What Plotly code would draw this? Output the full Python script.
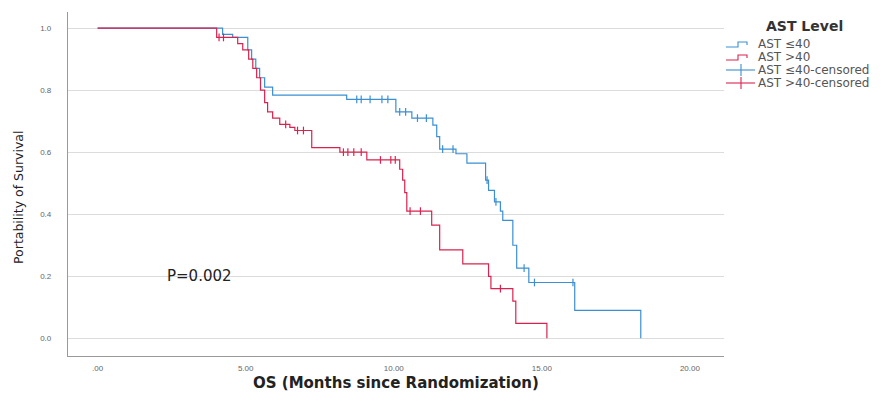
import plotly.graph_objects as go

# Kaplan-Meier step estimates (time in months, survival probability after each step)
low_times = [0, 4.22, 4.56, 5.07, 5.2, 5.34, 5.47, 5.64, 5.91, 8.41, 10.07, 10.61, 11.32,
             11.45, 11.55, 12.1, 12.47, 13.1, 13.2, 13.4, 13.6, 13.68, 14.02, 14.15, 14.56,
             16.11, 18.34]
low_surv = [1.0, 0.98, 0.97, 0.93, 0.90, 0.87, 0.84, 0.81, 0.784, 0.77, 0.73, 0.71, 0.687,
            0.65, 0.61, 0.595, 0.565, 0.51, 0.477, 0.44, 0.41, 0.38, 0.30, 0.226, 0.18,
            0.09, 0.0]
low_censored = [8.75, 8.9, 9.2, 9.6, 9.8, 10.2, 10.4, 10.8, 11.1, 11.65, 12.0, 13.15, 13.45,
                14.4, 14.75, 16.05]

high_times = [0, 4.02, 4.73, 4.9, 5.1, 5.24, 5.37, 5.5, 5.64, 5.74, 5.91, 6.15, 6.49, 6.66,
              7.23, 8.18, 9.09, 10.2, 10.3, 10.37, 10.44, 11.28, 11.55, 12.33, 13.2, 13.28,
              14.02, 14.12, 15.17]
high_surv = [1.0, 0.97, 0.95, 0.93, 0.90, 0.87, 0.84, 0.80, 0.76, 0.73, 0.71, 0.69, 0.68,
             0.67, 0.615, 0.60, 0.575, 0.545, 0.51, 0.47, 0.41, 0.365, 0.285, 0.24, 0.20,
             0.16, 0.12, 0.048, 0.0]
high_censored = [4.1, 4.25, 6.35, 6.75, 6.95, 8.3, 8.45, 8.65, 8.9, 9.55, 9.9, 10.05, 10.55,
                 10.9, 13.6]

x_tickvals = [0, 5, 10, 15, 20]
x_ticktext = [".00", "5.00", "10.00", "15.00", "20.00"]
y_tickvals = [0.0, 0.2, 0.4, 0.6, 0.8, 1.0]
y_ticktext = ["0.0", "0.2", "0.4", "0.6", "0.8", "1.0"]

group_names = ["AST \u226440", "AST >40"]
BLUE = "#3b8fd2"
RED = "#d9234f"
FONT = "DejaVu Sans"


def surv_at(times, surv, t):
    """Survival value of a right-continuous step function at time t."""
    val = surv[0]
    for ti, si in zip(times, surv):
        if ti <= t:
            val = si
    return val


fig = go.Figure()

for name, times, surv, cens, col in [
    (group_names[0], low_times, low_surv, low_censored, BLUE),
    (group_names[1], high_times, high_surv, high_censored, RED),
]:
    fig.add_trace(go.Scatter(x=times, y=surv, mode="lines", line_shape="hv",
                             line=dict(color=col, width=1.2), name=name, showlegend=False))
    fig.add_trace(go.Scatter(x=cens, y=[surv_at(times, surv, t) for t in cens],
                             mode="markers", name=name + "-censored", showlegend=False,
                             marker=dict(symbol="line-ns-open", size=5.5, color=col,
                                         line=dict(color=col, width=1.2))))

# plot area in pixels
L, R, T, B = 68, 724, 12, 356
W, H = 883, 401


def px(x):
    return (x - L) / (R - L)


def py(y):
    return (B - y) / (B - T)


shapes = []
annotations = []


def text_at(x, y, text, size, color, xanchor="center", **kw):
    annotations.append(dict(x=px(x), y=py(y), xref="paper", yref="paper", text=text,
                            xanchor=xanchor, yanchor="middle", showarrow=False,
                            font=dict(family=FONT, size=size, color=color), **kw))


# legend: title, step glyphs and censored glyphs
text_at(804, 26, "<b>AST Level</b>", 14, "#333")
legend_rows = [
    (group_names[0], BLUE, 44, "step"),
    (group_names[1], RED, 57, "step"),
    (group_names[0] + "-censored", BLUE, 70, "cens"),
    (group_names[1] + "-censored", RED, 83, "cens"),
]
for label, col, yy, kind in legend_rows:
    if kind == "step":
        path = (f"M {px(726)} {py(yy + 3)} L {px(738)} {py(yy + 3)} L {px(738)} {py(yy - 2)} "
                f"L {px(747)} {py(yy - 2)} L {px(747)} {py(yy + 1)}")
        shapes.append(dict(type="path", xref="paper", yref="paper", path=path,
                           line=dict(color=col, width=1.1)))
    else:
        shapes.append(dict(type="line", xref="paper", yref="paper", x0=px(726), x1=px(755),
                           y0=py(yy), y1=py(yy), line=dict(color=col, width=1.1)))
        shapes.append(dict(type="line", xref="paper", yref="paper", x0=px(741), x1=px(741),
                           y0=py(yy - 6), y1=py(yy + 6), line=dict(color=col, width=1.1)))
    text_at(756, yy, label, 12, "#555", xanchor="left")

# p-value
annotations.append(dict(x=3.45, y=0.2, xref="x", yref="y", text="P=0.002", showarrow=False,
                        xanchor="center", yanchor="middle",
                        font=dict(family=FONT, size=15, color="#222")))
# axis titles
text_at(18, 198, "Portability of Survival", 12.5, "#222", textangle=-90)
text_at(396, 383, "<b>OS (Months since Randomization)</b>", 15, "#222")

fig.update_layout(
    width=W, height=H,
    margin=dict(l=L, r=W - R, t=T, b=H - B),
    paper_bgcolor="white", plot_bgcolor="white",
    showlegend=False,
    shapes=shapes, annotations=annotations,
    xaxis=dict(range=[-1.0, 21.15], tickvals=x_tickvals, ticktext=x_ticktext,
               showgrid=False, zeroline=False, showline=True, linecolor="#999", linewidth=1.3,
               ticks="", ticklabelstandoff=4,
               tickfont=dict(family="Liberation Sans", size=8, color="#666")),
    yaxis=dict(range=[-0.057, 1.052], tickvals=y_tickvals, ticktext=y_ticktext,
               showgrid=True, gridcolor="#dcdcdc", gridwidth=1.2, zeroline=False,
               showline=True, linecolor="#999", linewidth=1.3,
               ticks="", ticklabelstandoff=14,
               tickfont=dict(family="Liberation Sans", size=8, color="#666")),
)

fig.write_html("out.html")
